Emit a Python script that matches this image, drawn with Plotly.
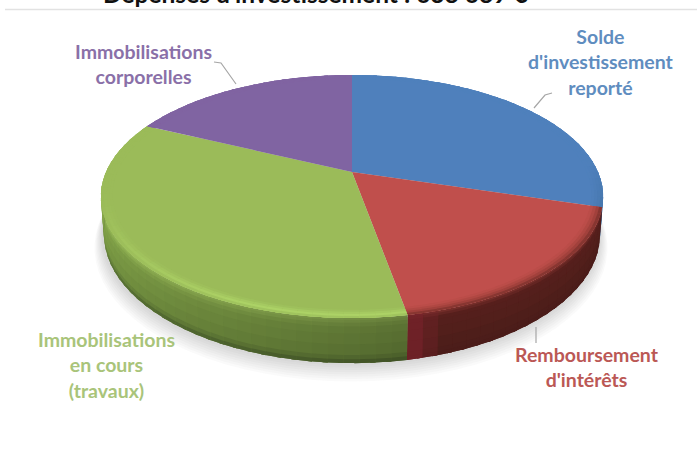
import math
import plotly.graph_objects as go

categories = ["Solde d'investissement reporté", "Remboursement d'intérêts",
              "Immobilisations en cours (travaux)", "Immobilisations corporelles"]
values = [29.6, 17.5, 34.9, 18.0]
top_colors = ["#4f80bc", "#c04f4c", "#9bbb59", "#8064a2"]
label_texts = ["<b>Solde<br>d'investissement<br>reporté</b>", "<b>Remboursement<br>d'intérêts</b>",
               "<b>Immobilisations<br>en cours<br>(travaux)</b>", "<b>Immobilisations<br>corporelles</b>"]
label_colors = ["#5f8dbf", "#bb5855", "#a9c47a", "#8a70a8"]
label_pos = [(601, 62), (587, 367), (106, 365), (143, 64)]
leaders = [[(552, 93), (545, 95), (534, 108)], [(536, 327), (536, 343)], [(214, 62), (221, 63), (236, 84)]]
title_text = "Dépenses d'investissement : 638 689 €"

# perspective disc
CX, CY, RX, RY, K, DEPTH = 352, 172, 246, 116.6, 0.2016, 36


def project(theta_deg, r=1.0, h=0.0):
    t = math.radians(theta_deg)
    u, v = r * math.sin(t), -r * math.cos(t)
    w = 1 / (1 - K * v)
    shrink = 1 - 0.012 * h
    return CX + RX * u * w * shrink, CY + RY * v * w + DEPTH * h * w


def mix(a, b, f):
    return tuple(a[i] + (b[i] - a[i]) * f for i in range(3))


def rgb(hex_color):
    return tuple(int(hex_color[i:i + 2], 16) for i in (1, 3, 5))


def css(c):
    return "rgb(%d,%d,%d)" % tuple(min(255, round(x)) for x in c)


def ramp(stops, t):
    for (t0, c0), (t1, c1) in zip(stops, stops[1:]):
        if t <= t1:
            return mix(rgb(c0), rgb(c1), (t - t0) / (t1 - t0))
    return rgb(stops[-1][1])


total = sum(values)
edges = [0.0]
for val in values:
    edges.append(edges[-1] + val / total * 360)

# colour ramps across the rim: t<BEVEL lies on the face, the rest runs down the wall
BEVEL = .16
RIM_STOPS = [
    [(0, "#4f80bc"), (.16, "#4677ad"), (.3, "#3b6a9c"), (.8, "#35618f"), (1, "#2d5480")],
    [(0, "#c04f4c"), (.09, "#a8443f"), (.16, "#7a302c"), (.26, "#561f1c"), (.6, "#511f1b"), (1, "#4a1c19")],
    [(0, "#9bbb59"), (.11, "#aed467"), (.17, "#93b455"), (.32, "#7b9a45"), (.85, "#6f8c3e"), (1, "#4f6630")],
    [(0, "#8064a2"), (1, "#5f4a7a")],
]
ROWS = [0, .04, .08, .12, .16, .2, .25, .32, .45, .65, .85, .93, 1]


def rim_point(theta, t):
    if t <= BEVEL:
        return project(theta, .955 + .045 * t / BEVEL, 0)
    return project(theta, 1, (t - BEVEL) / (1 - BEVEL))


def rim_color(i, theta, t):
    c = ramp(RIM_STOPS[i], t)
    if i == 2:
        along = max(0, min(1, (theta - edges[2]) / 90))
        if t > BEVEL:
            # green wall darkens toward the front and lightens to the left
            c = mix(tuple(x * .74 for x in c), tuple(x * 1.1 for x in c), along)
        else:
            # the bright edge fades out as it climbs the left side
            c = mix(c, rgb(top_colors[2]), max(0, (along - .35) / .65))
    if i == 1 and t > BEVEL:
        # the red wall reddens next to the green slice
        c = mix(c, rgb("#76222a"), max(0, min(1, (theta - edges[2] + 7) / 7)))
    front = max(0, min(1, (-math.cos(math.radians(theta)) + .1) / .35))
    return mix(rgb(top_colors[i]), c, front)


fig = go.Figure()


def poly(pts, fill):
    fig.add_trace(go.Scatter(
        x=[p[0] for p in pts] + [pts[0][0]], y=[p[1] for p in pts] + [pts[0][1]],
        mode="lines", fill="toself", fillcolor=fill,
        line=dict(color=fill, width=0), hoverinfo="skip", showlegend=False))


def strips(t_low, t_high):
    # overlapping quads, so no seams show between neighbouring strips
    step = 3.0
    rows = [t for t in ROWS if t_low <= t <= t_high]
    for i in range(len(values)):
        a = edges[i]
        while a < edges[i + 1]:
            b = min(a + step, edges[i + 1])
            b_over = min(b + 1.0, edges[i + 1])
            mid = (a + b) / 2
            if t_low > 0 and -math.cos(math.radians(mid)) < -.02:
                a = b
                continue
            for j in range(len(rows) - 1):
                t0, t1 = rows[j], rows[j + 1]
                t_over = rows[j + 2] if j + 2 < len(rows) else t1
                poly([rim_point(a, t0), rim_point(b_over, t0), rim_point(b_over, t_over), rim_point(a, t_over)],
                     css(rim_color(i, mid, (t0 + t1) / 2)))
            a = b


# soft ground shadow under the disc
for step in range(8, 0, -1):
    pts = []
    for a in range(0, 360, 4):
        x, y = project(a, 1 + .004 * step, 1)
        pts.append((x - 1, y + 1.5 * step))
    fig.add_trace(go.Scatter(x=[p[0] for p in pts], y=[p[1] for p in pts], mode="lines", fill="toself",
                             fillcolor="rgba(110,110,110,0.03)", line=dict(width=0), hoverinfo="skip",
                             showlegend=False))

strips(BEVEL, 1)

# flat coloured wedges of the top face, drawn from the shares
for i in range(len(values)):
    pts = [project(0, 0)]
    a = edges[i]
    while a < edges[i + 1]:
        pts.append(project(a))
        a += 1.5
    pts.append(project(edges[i + 1]))
    poly(pts, top_colors[i])

strips(0, BEVEL)

# leader lines
for line in leaders:
    fig.add_trace(go.Scatter(x=[p[0] for p in line], y=[p[1] for p in line], mode="lines",
                             line=dict(color="#a6a6a6", width=1.2), hoverinfo="skip", showlegend=False))

annotations = [dict(x=x, y=y, text=t, xref="x", yref="y", showarrow=False, align="center",
                    font=dict(family="Lato", size=19.5, color=c))
               for (x, y), t, c in zip(label_pos, label_texts, label_colors)]
annotations.append(dict(x=315 / 697, y=1 + 7 / 450, text="<b>" + title_text + "</b>", xref="paper", yref="paper",
                        showarrow=False, xanchor="center", yanchor="middle",
                        font=dict(family="Lato", size=24.5, color="#111111")))

fig.update_layout(
    width=697, height=450, margin=dict(l=0, r=0, t=0, b=0), paper_bgcolor="white", plot_bgcolor="white",
    showlegend=False, annotations=annotations,
    xaxis=dict(range=[0, 697], visible=False, fixedrange=True),
    yaxis=dict(range=[450, 0], visible=False, fixedrange=True),
    shapes=[dict(type="line", xref="x", yref="y", x0=5, x1=697, y0=9.5, y1=9.5,
                 line=dict(color="#e2e2e2", width=1.5))],
)
fig.write_html("out.html", config=dict(displayModeBar=False))
